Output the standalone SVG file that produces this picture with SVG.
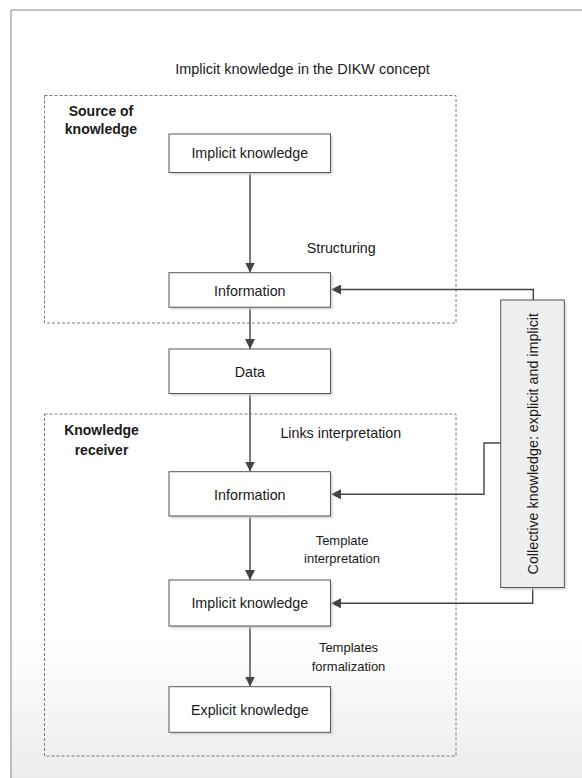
<svg xmlns="http://www.w3.org/2000/svg" width="582" height="778" viewBox="0 0 582 778">
  <style>
    text { font-family: "Liberation Sans", Arial, sans-serif; fill: #1a1a1a; }
    .node { fill: #ffffff; stroke: #555555; stroke-width: 1; }
    .side { fill: #efefef; stroke: #555555; stroke-width: 1; }
    .shadow { fill: #cfcfcf; filter: url(#soft); }
    .group { fill: none; stroke: #7a7a7a; stroke-width: 1; stroke-dasharray: 3 2; }
    .label { font-size: 14.3px; text-anchor: middle; }
    .small { font-size: 13px; text-anchor: middle; }
    .bold { font-size: 14px; font-weight: bold; text-anchor: middle; }
    .edge { fill: none; stroke: #444444; stroke-width: 1.4; marker-end: url(#arrow); }
  </style>
  <defs>
    <linearGradient id="bg" gradientUnits="userSpaceOnUse" x1="0" y1="0" x2="0" y2="778">
      <stop offset="0" stop-color="#ffffff"/>
      <stop offset="0.82" stop-color="#ffffff"/>
      <stop offset="1" stop-color="#ececec"/>
    </linearGradient>
    <filter id="soft" x="-10%" y="-10%" width="120%" height="130%">
      <feGaussianBlur stdDeviation="1"/>
    </filter>
    <marker id="arrow" viewBox="0 0 10 10" refX="10" refY="5" markerWidth="10" markerHeight="10" markerUnits="userSpaceOnUse" orient="auto">
      <path d="M0,0 L10,5 L0,10 Z" fill="#444444"/>
    </marker>
  </defs>

  <!-- page frame -->
  <rect x="0" y="0" width="582" height="778" fill="#ffffff"/>
  <rect x="11" y="10" width="600" height="800" fill="url(#bg)" stroke="#9a9a9a" stroke-width="1.2"/>

  <text class="label" x="302.5" y="74" style="font-size:14.5px">Implicit knowledge in the DIKW concept</text>

  <!-- group containers -->
  <g id="source-group">
    <rect class="group" x="44.5" y="95.5" width="411.5" height="227.5"/>
    <text class="bold" x="101" y="115.5">Source of</text>
    <text class="bold" x="101" y="133.5">knowledge</text>
  </g>
  <g id="receiver-group">
    <rect class="group" x="44.5" y="414" width="411.5" height="342"/>
    <text class="bold" x="101.5" y="434.5">Knowledge</text>
    <text class="bold" x="101.5" y="455">receiver</text>
  </g>

  <!-- connectors -->
  <g id="connectors">
    <path class="edge" d="M250,172.5 V272.5"/>
    <path class="edge" d="M250,307.5 V349"/>
    <path class="edge" d="M250,393.5 V471.5"/>
    <path class="edge" d="M250,516 V580"/>
    <path class="edge" d="M250,626 V686.5"/>
    <path class="edge" d="M533.3,300 V289.5 H331"/>
    <path class="edge" d="M500.7,443 H484 V494.3 H331"/>
    <path class="edge" d="M532.7,587.5 V603.3 H331"/>
    <text class="label" x="341.2" y="253.3">Structuring</text>
    <text class="label" x="340.8" y="438.3">Links interpretation</text>
    <text class="small" x="342" y="545">Template</text>
    <text class="small" x="342" y="563.3">interpretation</text>
    <text class="small" x="348.5" y="651.7">Templates</text>
    <text class="small" x="348.5" y="670.7">formalization</text>
  </g>

  <!-- nodes -->
  <g id="implicit-source">
    <rect class="shadow" x="171" y="136" width="161.5" height="38.5"/>
    <rect class="node" x="169" y="134" width="161.5" height="38.5"/>
    <text class="label" x="249.8" y="158.3">Implicit knowledge</text>
  </g>
  <g id="information-source">
    <rect class="shadow" x="171" y="274.7" width="161.5" height="34.5"/>
    <rect class="node" x="169" y="272.7" width="161.5" height="34.5"/>
    <text class="label" x="249.8" y="296">Information</text>
  </g>
  <g id="data">
    <rect class="shadow" x="171" y="351" width="161.5" height="44.5"/>
    <rect class="node" x="169" y="349" width="161.5" height="44.5"/>
    <text class="label" x="249.8" y="376.7">Data</text>
  </g>
  <g id="information-receiver">
    <rect class="shadow" x="171" y="473.7" width="161.5" height="44.3"/>
    <rect class="node" x="169" y="471.7" width="161.5" height="44.3"/>
    <text class="label" x="249.8" y="500">Information</text>
  </g>
  <g id="implicit-receiver">
    <rect class="shadow" x="171" y="582" width="161.5" height="46"/>
    <rect class="node" x="169" y="580" width="161.5" height="46"/>
    <text class="label" x="249.8" y="608.3">Implicit knowledge</text>
  </g>
  <g id="explicit-receiver">
    <rect class="shadow" x="171" y="688.7" width="161.5" height="45.6"/>
    <rect class="node" x="169" y="686.7" width="161.5" height="45.6"/>
    <text class="label" x="249.8" y="715">Explicit knowledge</text>
  </g>
  <g id="collective-knowledge">
    <rect class="shadow" x="502.7" y="302" width="63.6" height="287.5"/>
    <rect class="side" x="500.7" y="300" width="63.6" height="287.5"/>
    <text class="label" transform="translate(537.5,443.7) rotate(-90)" x="0" y="0">Collective knowledge: explicit and implicit</text>
  </g>
</svg>
